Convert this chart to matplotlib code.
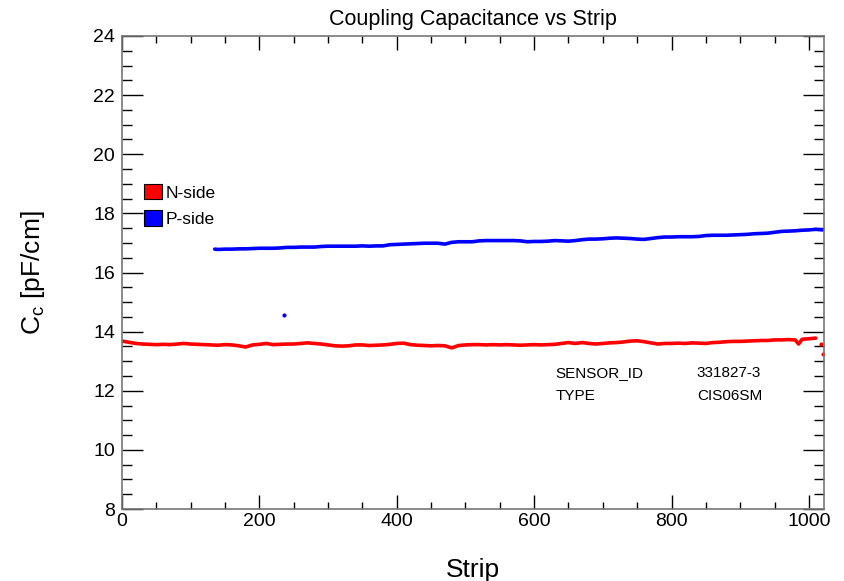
import matplotlib
matplotlib.use("Agg")
import matplotlib.pyplot as plt
from matplotlib.patches import Patch
from matplotlib.ticker import MultipleLocator

plt.rcParams['font.family'] = ['Liberation Sans', 'DejaVu Sans']
plt.rcParams['mathtext.fontset'] = 'custom'
plt.rcParams['mathtext.rm'] = 'Liberation Sans'
plt.rcParams['mathtext.it'] = 'Liberation Sans'

# ---------------- data ----------------
n_strip = [0, 10, 20, 30, 40, 50, 60, 70, 80, 90, 100, 110, 120, 130, 140, 150, 160, 170, 180, 190,
           200, 210, 220, 230, 240, 250, 260, 270, 280, 290, 300, 310, 320, 330, 340, 350, 360, 370, 380, 390,
           400, 410, 420, 430, 440, 450, 460, 470, 480, 490, 500, 510, 520, 530, 540, 550, 560, 570, 580, 590,
           600, 610, 620, 630, 640, 650, 660, 670, 680, 690, 700, 710, 720, 730, 740, 750, 760, 770, 780, 790,
           800, 810, 820, 830, 840, 850, 860, 870, 880, 890, 900, 910, 920, 930, 940, 950, 960, 970, 980, 985,
           990, 1000, 1010]
n_cc = [13.68, 13.64, 13.60, 13.58, 13.57, 13.56, 13.57, 13.56, 13.58, 13.60, 13.58, 13.57, 13.56, 13.55, 13.54, 13.56, 13.55, 13.52, 13.48, 13.55,
        13.57, 13.60, 13.56, 13.57, 13.58, 13.58, 13.60, 13.62, 13.60, 13.58, 13.55, 13.52, 13.51, 13.52, 13.55, 13.55, 13.53, 13.54, 13.55, 13.57,
        13.60, 13.61, 13.56, 13.54, 13.53, 13.52, 13.53, 13.52, 13.45, 13.53, 13.55, 13.56, 13.56, 13.55, 13.56, 13.55, 13.56, 13.55, 13.54, 13.55,
        13.56, 13.55, 13.56, 13.57, 13.60, 13.63, 13.60, 13.63, 13.60, 13.58, 13.60, 13.62, 13.63, 13.65, 13.68, 13.69, 13.66, 13.62, 13.58, 13.60,
        13.60, 13.61, 13.60, 13.62, 13.61, 13.60, 13.63, 13.64, 13.66, 13.67, 13.67, 13.68, 13.69, 13.70, 13.70, 13.72, 13.72, 13.73, 13.72, 13.58,
        13.74, 13.76, 13.78]
n_out_strip = [1017, 1020]
n_out_cc = [13.58, 13.23]

p_strip = [135, 140, 150, 160, 170, 180, 190, 200, 210, 220, 230, 240, 250, 260, 270, 280, 290, 300, 310, 320,
           330, 340, 350, 360, 370, 380, 390, 400, 410, 420, 430, 440, 450, 460, 470, 480, 490, 500, 510, 520,
           530, 540, 550, 560, 570, 580, 590, 600, 610, 620, 630, 640, 650, 660, 670, 680, 690, 700, 710, 720,
           730, 740, 750, 760, 770, 780, 790, 800, 810, 820, 830, 840, 850, 860, 870, 880, 890, 900, 910, 920,
           930, 940, 950, 960, 970, 980, 990, 1000, 1010, 1020]
p_cc = [16.79, 16.78, 16.79, 16.79, 16.80, 16.80, 16.81, 16.82, 16.82, 16.82, 16.83, 16.85, 16.85, 16.86, 16.86, 16.86, 16.88, 16.89, 16.89, 16.89,
        16.89, 16.89, 16.90, 16.89, 16.90, 16.90, 16.94, 16.95, 16.96, 16.97, 16.98, 16.99, 16.99, 16.99, 16.96, 17.02, 17.04, 17.04, 17.04, 17.07,
        17.08, 17.08, 17.08, 17.08, 17.08, 17.07, 17.04, 17.05, 17.05, 17.06, 17.08, 17.07, 17.06, 17.08, 17.11, 17.13, 17.13, 17.14, 17.16, 17.17,
        17.16, 17.15, 17.13, 17.12, 17.15, 17.18, 17.20, 17.20, 17.21, 17.21, 17.21, 17.22, 17.25, 17.26, 17.26, 17.26, 17.27, 17.28, 17.29, 17.31,
        17.32, 17.33, 17.36, 17.39, 17.40, 17.41, 17.43, 17.44, 17.46, 17.44]
p_out_strip = [236]
p_out_cc = [14.56]

sensor_info = [("SENSOR_ID", "331827-3"), ("TYPE", "CIS06SM")]

# ---------------- figure ----------------
fig = plt.figure(figsize=(8.44, 5.81), dpi=100)
ax = fig.add_axes([122 / 844, 1 - 509 / 581, 702 / 844, 473 / 581])

ax.plot(n_strip, n_cc, color='#ff0000', lw=2.6, solid_capstyle='round')
ax.plot(n_out_strip, n_out_cc, 'o', color='#ff0000', ms=3, mew=0)
ax.plot(p_strip, p_cc, color='#0000ff', lw=2.6, solid_capstyle='round')
ax.plot(p_out_strip, p_out_cc, 'o', color='#0000ff', ms=3, mew=0)

ax.set_xlim(0, 1022)
ax.set_ylim(8, 24)
ax.xaxis.set_major_locator(MultipleLocator(200))
ax.xaxis.set_minor_locator(MultipleLocator(50))
ax.yaxis.set_major_locator(MultipleLocator(2))
ax.yaxis.set_minor_locator(MultipleLocator(0.5))

ax.tick_params(axis='both', which='both', direction='in', top=True, right=True,
               labelsize=14, width=1, color='black')
ax.tick_params(axis='x', which='major', length=10, pad=3)
ax.tick_params(axis='x', which='minor', length=5)
ax.tick_params(axis='y', which='major', length=15, pad=5)
ax.tick_params(axis='y', which='minor', length=7.5)
for s in ax.spines.values():
    s.set_color('#777777')
    s.set_linewidth(1.2)

ax.set_title('Coupling Capacitance vs Strip', fontsize=15.5, pad=8)
ax.set_xlabel('Strip', fontsize=19, labelpad=20)
ax.set_ylabel(r'C$_\mathregular{c}$ [pF/cm]', fontsize=19, labelpad=33)

handles = [Patch(facecolor='#ff0000', edgecolor='black', lw=0.8),
           Patch(facecolor='#0000ff', edgecolor='black', lw=0.8)]
ax.legend(handles, ['N-side', 'P-side'], loc='upper left', bbox_to_anchor=(0.022, 0.702),
          frameon=False, fontsize=12.5, handlelength=1.0, handleheight=1.0,
          handletextpad=0.25, labelspacing=0.55, borderaxespad=0)

for i, (k, v) in enumerate(sensor_info):
    y = 0.2875 - i * 0.049
    ax.text(0.618, y, k, transform=ax.transAxes, fontsize=11, va='center', ha='left')
    ax.text(0.819, y, v, transform=ax.transAxes, fontsize=11, va='center', ha='left')

fig.savefig('out.png', dpi=100)
